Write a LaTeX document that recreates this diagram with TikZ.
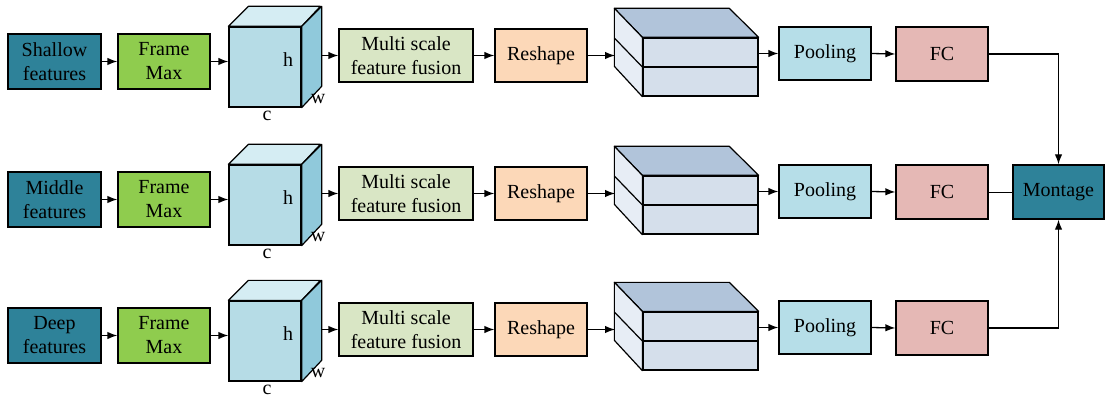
\documentclass[tikz,border=0pt]{standalone}
\usepackage{fontspec}
\setmainfont{Liberation Serif}
\usetikzlibrary{arrows.meta}
\definecolor{teal1}{HTML}{2E8299}
\definecolor{fmgreen}{HTML}{8FCC4E}
\definecolor{cubefront}{HTML}{B6DCE6}
\definecolor{cubetop}{HTML}{D5EDF3}
\definecolor{cubeside}{HTML}{90C9DB}
\definecolor{msffc}{HTML}{D9E6C5}
\definecolor{reshc}{HTML}{FCD8B8}
\definecolor{slabtop}{HTML}{B1C4DA}
\definecolor{slabfront}{HTML}{D5DFEB}
\definecolor{slableft}{HTML}{E7EDF5}
\definecolor{poolc}{HTML}{B6DEE8}
\definecolor{fcc}{HTML}{E5B8B5}
\tikzset{
  box/.style={draw=black, line width=1.3pt, inner sep=0pt, align=center,
    font=\fontsize{20}{24}\selectfont},
  conn/.style={line width=1.3pt, -{Latex[length=10pt,width=7.5pt]}},
  plain/.style={line width=0.9pt},
  edge3d/.style={draw=black, line width=1.2pt, line join=round},
  lbl/.style={font=\fontsize{20}{24}\selectfont, inner sep=0pt}
}
\begin{document}
\begin{tikzpicture}[x=1pt,y=-1pt]
\useasboundingbox (0,0) rectangle (1105,398);
\foreach \i/\r/\name in {1/0/Shallow, 2/138/Middle, 3/274/Deep}{
  % feature box
  \node[box, fill=teal1, minimum width=93pt, minimum height=55pt] (feat\i) at (54.5,61.5+\r) {\name\\features};
  \node[box, fill=fmgreen, minimum width=92pt, minimum height=55pt] (fmax\i) at (164,61.5+\r) {Frame\\Max};
  % cube
  \node[box, fill=cubefront, minimum width=72pt, minimum height=80pt] (cube\i) at (265,67+\r) {};
  \filldraw[edge3d, fill=cubetop] (cube\i.north west) -- ++(20,-20) -- ++(72,0) -- (cube\i.north east) -- cycle;
  \filldraw[edge3d, fill=cubeside] (cube\i.north east) -- ++(20,-20) -- ++(0,80) -- (cube\i.south east) -- cycle;
  \node[lbl] (h\i) at (288,60+\r) {h};
  \node[lbl] (w\i) at (318,99+\r) {w};
  \node[lbl] (c\i) at (267,116+\r) {c};
  \coordinate (cubeout\i) at (321,55.5+\r);
  % multi scale
  \node[box, fill=msffc, minimum width=134pt, minimum height=53pt] (msff\i) at (406,55.5+\r) {Multi scale\\feature fusion};
  \node[box, fill=reshc, minimum width=92pt, minimum height=53pt] (resh\i) at (541,55.5+\r) {Reshape};
  % slab
  \node[box, fill=slabfront, minimum width=115pt, minimum height=58pt] (slab\i) at (700.5,67+\r) {};
  \filldraw[edge3d, fill=slabtop] (slab\i.north west) -- ++(-28,-29) -- ++(115,0) -- (slab\i.north east) -- cycle;
  \filldraw[edge3d, fill=slableft] (slab\i.north west) -- ++(-28,-29) -- ++(0,58) -- (slab\i.south west) -- cycle;
  \draw[edge3d] (slab\i.west) -- (slab\i.east);
  \draw[edge3d] (slab\i.west) -- ++(-28,-29);
  \coordinate (slabin\i) at (615,55.5+\r);
  \node[box, fill=poolc, minimum width=92pt, minimum height=53pt] (pool\i) at (825,53.5+\r) {Pooling};
  \coordinate (slabout\i) at (759,53.5+\r);
  \node[box, fill=fcc, minimum width=92pt, minimum height=54pt] (fc\i) at (942,54+\r) {FC};
  % connectors
  \draw[conn] (feat\i.east) -- (fmax\i.west);
  \draw[conn] (fmax\i.east) -- (fmax\i.east -| cube\i.west);
  \draw[conn] (cubeout\i) -- (msff\i.west);
  \draw[conn] (msff\i.east) -- (resh\i.west);
  \draw[conn] (resh\i.east) -- (slabin\i);
  \draw[conn] (slabout\i) -- (pool\i.west);
  \draw[conn] (pool\i.east) -- (fc\i.west);
}
\node[box, fill=teal1, minimum width=91pt, minimum height=54pt] (mont) at (1058.5,192) {Montage};
\draw[conn] (fc1.east) -| (mont.north);
\draw[plain] (fc2.east) -- (mont.west);
\draw[conn] (fc3.east) -| (mont.south);
\end{tikzpicture}
\end{document}
